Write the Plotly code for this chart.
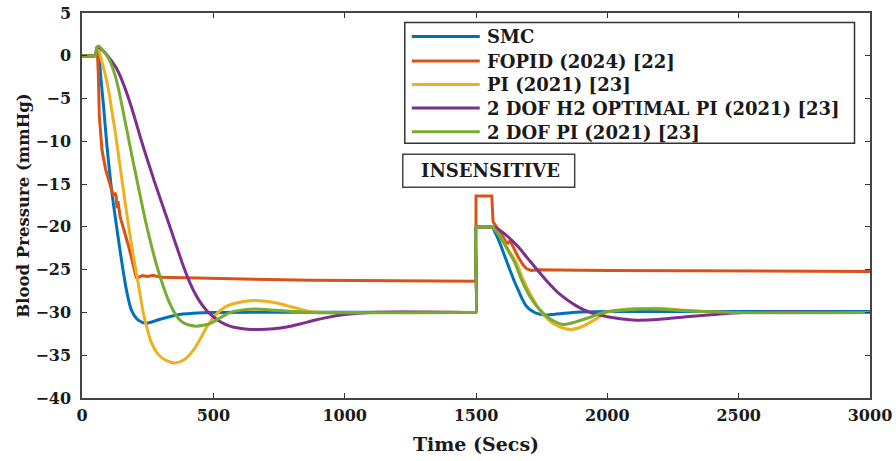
import plotly.graph_objects as go

# ---------------- data ----------------
names = ["SMC", "FOPID (2024) [22]", "PI (2021) [23]",
         "2 DOF H2 OPTIMAL PI (2021) [23]", "2 DOF PI (2021) [23]"]
colors = ["#0072BD", "#D95319", "#EDB120", "#7E2F8E", "#77AC30"]

smc_t = [0, 48, 52, 58, 63, 70, 82, 95, 114, 130, 145, 157, 170, 189, 214, 246, 297, 360, 423, 500,
         1497,
         1500, 1500, 1503, 1559, 1562, 1575, 1591, 1610, 1629, 1645, 1661, 1677, 1693, 1712, 1731,
         1763, 1800, 1870, 2000, 3000]
smc_v = [0, 0, 0.1, 0.8, 0.8, -2, -5.9, -10.5, -16, -19.6, -22.8, -25.2, -27.5, -29.8, -30.9,
         -31.25, -30.8, -30.3, -30.1, -30, -30,
         -30, -20, -20, -20, -20, -20.8, -21.9, -23.5, -25, -26.3, -27.4, -28.5, -29.3, -29.8, -30.1,
         -30.3, -30.2, -30.0, -29.9, -29.9]

fopid_t = [0, 50, 58, 62, 66, 76, 90, 101, 120, 125, 130, 133, 137, 145, 160, 175, 190, 200, 206,
           215, 230, 250, 270, 300, 500, 870, 1200,
           1500, 1500, 1560, 1565, 1590, 1615, 1622, 1630, 1640, 1660, 1680, 1693, 1710, 1740, 1800,
           2000, 3000]
fopid_v = [0, 0, 0.8, -2, -7.1, -11, -13.3, -14.5, -16.4, -16.0, -16.4, -17.8, -17.0, -18.8, -20.3,
           -22, -23.8, -25.3, -25.9, -25.9, -25.7, -25.8, -25.65, -25.9, -26.05, -26.25, -26.3,
           -26.35, -16.4, -16.4, -19.4, -20.5, -21.8, -21.9, -21.6, -22.3, -23.5, -24.5, -24.9,
           -25.1, -25.0, -25.05, -25.1, -25.2]

pi_t = [0, 48, 52, 58, 63, 70, 80, 90, 101, 114, 127, 140, 152, 165, 178, 196, 214, 233, 250, 264,
        290, 320, 354, 390, 424, 450, 475, 500, 525, 555, 589, 620, 652, 700, 741, 780, 817, 868,
        950, 1050, 1497,
        1500, 1500, 1503, 1559, 1562, 1580, 1600, 1630, 1654, 1680, 1711, 1750, 1800, 1858, 1900,
        1950, 1997, 2050, 2120, 2195, 2280, 2400, 2500, 3000]
pi_v = [0, 0, 0.1, 0.8, 0.9, 0, -1.2, -2.4, -4.0, -6.5, -9.0, -11.8, -14.5, -17.3, -20, -23.5,
        -26.6, -30.0, -32.1, -33.5, -34.9, -35.6, -35.9, -35.5, -34.4, -33.1, -31.7, -30.6, -29.8,
        -29.2, -28.9, -28.7, -28.6, -28.7, -28.9, -29.2, -29.5, -29.9, -30.05, -30, -30,
        -30, -20, -20, -20, -20, -20.6, -21.5, -23, -24.2, -26.2, -28.1, -30, -31.4, -32, -31.7,
        -30.9, -30, -29.7, -29.55, -29.5, -29.7, -29.95, -30, -30]

h2_t = [0, 48, 52, 57, 65, 80, 100, 115, 130, 146, 165, 184, 203, 222, 241, 260, 279, 298, 317, 335,
        348, 367, 386, 405, 424, 450, 475, 500, 525, 555, 589, 630, 678, 730, 779, 830, 880, 940,
        1000, 1100, 1497,
        1500, 1500, 1503, 1559, 1562, 1590, 1620, 1660, 1700, 1766, 1820, 1880, 1934, 2000, 2111,
        2200, 2300, 2420, 2518, 3000]
h2_v = [0, 0, 0.1, 1.0, 1.0, 0.6, -0.1, -0.7, -1.4, -2.4, -3.9, -5.6, -7.5, -9.5, -11.4, -13.2,
        -15.0, -16.7, -18.4, -20.0, -21.2, -22.9, -24.6, -26.1, -27.4, -28.8, -29.8, -30.5, -31.05,
        -31.5, -31.8, -31.95, -32, -31.9, -31.7, -31.35, -30.95, -30.55, -30.25, -30, -30,
        -30, -20, -20, -20, -20, -20.4, -21.1, -22.3, -23.8, -26.2, -27.9, -29.2, -30, -30.5, -30.9,
        -30.8, -30.5, -30.2, -30, -30]

dof_t = [0, 48, 52, 57, 65, 80, 101, 114, 127, 140, 152, 165, 178, 190, 203, 215, 228, 241, 254,
         271, 290, 310, 328, 348, 367, 386, 410, 437, 462, 487, 512, 538, 575, 614, 660, 715, 790,
         868, 1497,
         1500, 1500, 1503, 1559, 1562, 1580, 1600, 1625, 1648, 1675, 1705, 1740, 1780, 1831, 1880,
         1930, 1985, 2050, 2170, 2300, 2476, 3000]
dof_v = [0, 0, 0.1, 1.0, 1.1, 0.6, -0.3, -1.2, -2.4, -4.0, -5.8, -7.8, -9.8, -11.7, -13.6, -15.4,
         -17.3, -19.2, -20.9, -23.0, -25.1, -27.0, -28.5, -29.8, -30.7, -31.2, -31.5, -31.6, -31.5,
         -31.3, -30.9, -30.4, -29.9, -29.7, -29.6, -29.7, -29.85, -30, -30,
         -30, -20, -20, -20, -20, -20.6, -21.6, -22.9, -24.2, -26.3, -28.1, -29.6, -30.7, -31.4,
         -31.1, -30.6, -30, -29.75, -29.6, -29.8, -30, -30]

series_t = [smc_t, fopid_t, pi_t, h2_t, dof_t]
series_v = [smc_v, fopid_v, pi_v, h2_v, dof_v]
series_shape = ["spline", "linear", "spline", "spline", "spline"]

x_ticks = [0, 500, 1000, 1500, 2000, 2500, 3000]
y_ticks = [5, 0, -5, -10, -15, -20, -25, -30, -35, -40]
annotation_text = "INSENSITIVE"

# ---------------- figure ----------------
W, H = 896, 461
ML, MR, MT, MB = 82, 25.5, 12.5, 63
PW, PH = W - ML - MR, H - MT - MB

def px(xp):
    return (xp - ML) / PW

def py(yp):
    return (H - MB - yp) / PH

serif = "DejaVu Serif, Liberation Serif, serif"
ink = "#1a1a1a"

fig = go.Figure()
for n, c, t, v, s in zip(names, colors, series_t, series_v, series_shape):
    fig.add_trace(go.Scatter(x=t, y=v, mode="lines", name=n,
                             line=dict(color=c, width=3, shape=s, smoothing=0.8),
                             showlegend=False))

axis_common = dict(showgrid=False, zeroline=False, ticks="inside", ticklen=5, tickwidth=1,
                   tickcolor="#333", showline=True, linecolor="#444", linewidth=1.5,
                   mirror="ticks", automargin=False,
                   tickfont=dict(family=serif, size=16, color=ink, weight="bold"))

fig.update_layout(
    width=W, height=H,
    margin=dict(l=ML, r=MR, t=MT, b=MB, pad=0),
    paper_bgcolor="white", plot_bgcolor="white",
    xaxis=dict(range=[0, 3000], tickvals=x_ticks, ticklabelstandoff=2,
               title=dict(text="Time (Secs)", standoff=14,
                          font=dict(family=serif, size=19, color=ink, weight="bold")),
               **axis_common),
    yaxis=dict(range=[-40, 5], tickvals=y_ticks, ticklabelstandoff=6,
               title=dict(text="Blood Pressure (mmHg)", standoff=2,
                          font=dict(family=serif, size=16.5, color=ink, weight="bold")),
               **axis_common),
    showlegend=False,
)

shapes = []
annots = []
# manual legend (MATLAB style: long sample lines)
shapes.append(dict(type="rect", xref="paper", yref="paper",
                   x0=px(405), x1=px(855), y0=py(143), y1=py(22),
                   line=dict(color="#333", width=1.5), fillcolor="white", layer="above"))
rows = [36, 60.5, 84, 107.5, 131.5]
for n, c, r in zip(names, colors, rows):
    shapes.append(dict(type="line", xref="paper", yref="paper",
                       x0=px(412), x1=px(480), y0=py(r), y1=py(r),
                       line=dict(color=c, width=3), layer="above"))
    annots.append(dict(xref="paper", yref="paper", x=px(485), y=py(r + 0.5),
                       text=n, showarrow=False, xanchor="left", yanchor="middle",
                       font=dict(family=serif, size=18, color=ink, weight="bold")))

# INSENSITIVE label box
shapes.append(dict(type="rect", xref="paper", yref="paper",
                   x0=px(403), x1=px(575), y0=py(187), y1=py(154),
                   line=dict(color="#444", width=1.5), fillcolor="white", layer="above"))
annots.append(dict(xref="paper", yref="paper", x=px(491), y=py(170.5),
                   text=annotation_text, showarrow=False, xanchor="center", yanchor="middle",
                   font=dict(family=serif, size=18, color=ink, weight="bold")))

fig.update_layout(shapes=shapes, annotations=annots)
fig.write_html("out.html")
